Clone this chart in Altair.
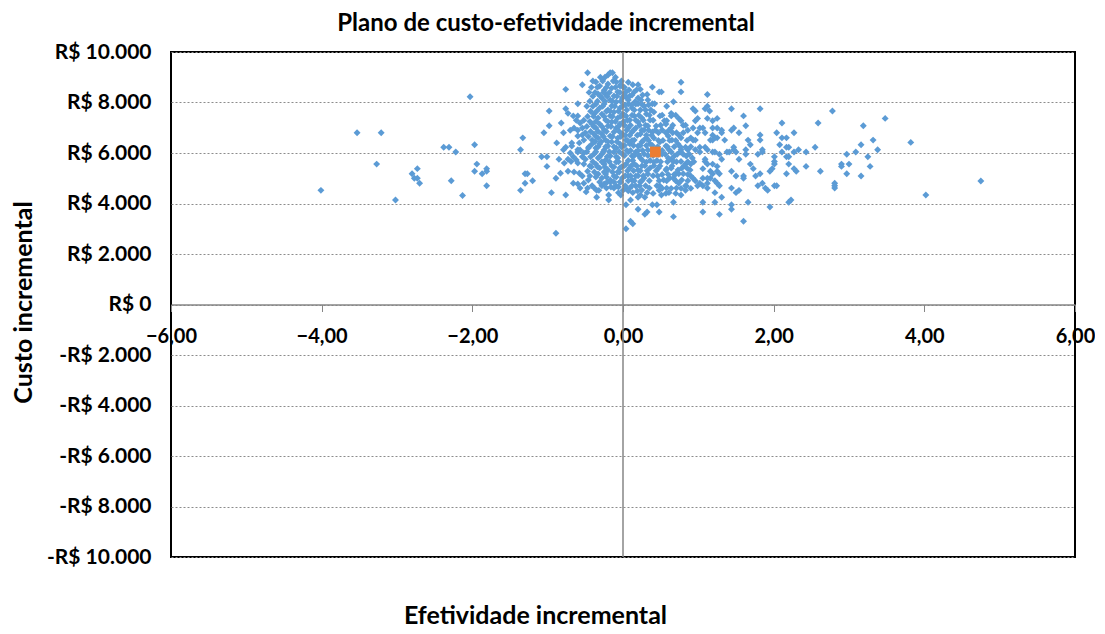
import altair as alt
import pandas as pd

# ---------------- data ----------------
x_ticks = [-6, -4, -2, 0, 2, 4, 6]
y_ticks = [-10000, -8000, -6000, -4000, -2000, 0, 2000, 4000, 6000, 8000, 10000]

# outlying points on the left
left_pts = [
    (-4.01, 4520), (-3.53, 6800), (-3.21, 6800), (-3.27, 5560), (-3.02, 4140),
    (-2.80, 5180), (-2.73, 5380), (-2.77, 5000), (-2.73, 5000), (-2.70, 4800),
    (-2.38, 6230), (-2.31, 6230), (-2.22, 6040), (-2.03, 8230), (-2.28, 4900),
    (-2.13, 4320), (-1.97, 6330), (-1.94, 5560), (-1.97, 5280), (-1.87, 5180),
    (-1.81, 5380), (-1.81, 5280), (-1.81, 4700), (-1.33, 6600), (-1.36, 6130),
    (-1.30, 5180), (-1.27, 5180), (-1.20, 4900), (-1.30, 4800), (-1.36, 4520),
    (-1.05, 6800), (-0.98, 7660), (-0.98, 7080), (-1.08, 5850), (-1.01, 5850),
    (-1.01, 5470),
]

# points around the central cloud (edges)
mid_pts = [
    (-0.47, 9180), (-0.17, 9180), (-0.20, 9090), (-0.14, 9180), (-0.54, 8700),
    (-0.76, 8520), (-0.60, 7950), (-0.76, 7750), (-0.73, 7570), (-0.66, 7470),
    (-0.60, 7470), (-0.82, 7190), (-0.57, 7190), (-0.54, 6990), (-0.50, 6800),
    (-0.54, 6710), (-0.79, 6800), (-0.41, 6510), (-0.76, 6230), (-0.79, 6130),
    (-0.60, 6130), (-0.60, 6040), (-0.85, 5750), (-0.73, 5750), (-0.69, 5660),
    (-0.66, 5850), (-0.54, 5850), (-0.50, 5750), (-0.73, 5280), (-0.47, 5280),
    (-0.44, 5090), (-0.89, 5000), (-0.57, 4610), (-0.47, 4610), (-0.41, 4700),
    (-0.38, 4610), (-0.35, 4520), (-0.76, 4340), (-0.95, 4430), (-0.35, 4250),
    (-0.19, 4140), (-0.89, 2820), (0.04, 3000), (0.10, 3300), (0.13, 3200),
    (0.29, 3570), (0.32, 3660), (0.20, 3770), (0.48, 3660), (0.67, 3480),
    (0.67, 4050), (0.39, 3950), (0.45, 3950), (0.77, 4340),
    (0.77, 8800), (0.77, 8420), (0.39, 8610), (0.48, 8420), (0.51, 8420),
    (0.32, 8320), (0.20, 8700), (0.13, 8700), (0.07, 8800), (0.23, 8520),
    (0.00, 8610), (-0.03, 8700), (0.04, 8230), (0.67, 8030), (0.58, 7850),
    (0.39, 7950), (0.42, 7950), (0.16, 8030), (0.20, 7950), (0.93, 7750),
    (0.96, 7660), (0.64, 7570), (0.64, 7470), (0.74, 7370), (0.77, 7280),
    (0.96, 7280), (0.99, 7370), (0.58, 7280), (0.55, 7280), (0.61, 6900),
    (0.64, 6990), (0.83, 7100), (0.86, 6900), (0.71, 6800), (0.74, 6710),
    (0.77, 6600), (0.93, 6990), (0.99, 6800), (0.90, 6600), (0.93, 6510),
    (0.96, 6510), (0.83, 6230), (0.86, 6130), (0.77, 6130), (0.64, 6040),
    (0.61, 6130), (0.96, 6130), (0.64, 5750), (0.67, 5660), (0.77, 5660),
    (0.83, 5560), (0.90, 5560), (0.58, 5380), (0.74, 5180), (0.80, 5180),
    (0.90, 5090), (0.93, 5000), (0.67, 5000), (0.74, 4800), (0.71, 4610),
    (0.83, 4700), (0.83, 4520), (0.96, 4900), (0.99, 4700), (0.58, 4610),
    (0.61, 4430), (0.51, 4340), (0.45, 4700), (0.48, 4520), (0.32, 4430),
    (0.29, 4250), (0.35, 4610), (0.23, 4340), (0.20, 4250), (0.13, 4430),
    (0.04, 3950), (0.10, 4140), (0.00, 4520), (0.04, 4610), (-0.06, 4430),
    (-0.03, 4340), (-0.12, 4610), (-0.22, 4610), (-0.28, 4700), (-0.32, 4520),
    (-0.19, 4340),
]

# dense core of the cloud
core_pts = [
    (-0.36, 8810), (-0.31, 8650), (-0.25, 8490), (-0.20, 8730), (-0.15, 8570),
    (-0.09, 8810), (-0.04, 8650), (-0.33, 8340), (-0.28, 8180), (-0.23, 8340),
    (-0.17, 8100), (-0.12, 8260), (-0.07, 8420), (-0.01, 8180), (-0.36, 7940),
    (-0.31, 7780), (-0.25, 7940), (-0.20, 7700), (-0.15, 7860), (-0.09, 8020),
    (-0.04, 7780), (-0.385, 7540), (-0.33, 7390), (-0.28, 7540), (-0.23, 7310),
    (-0.17, 7470), (-0.12, 7620), (-0.07, 7390), (-0.01, 7540), (-0.41, 7150),
    (-0.36, 6990), (-0.31, 7150), (-0.25, 6910), (-0.20, 7070), (-0.15, 7230),
    (-0.09, 6990), (-0.04, 7150), (-0.385, 6750), (-0.33, 6590), (-0.28, 6750),
    (-0.23, 6510), (-0.17, 6670), (-0.12, 6830), (-0.07, 6590), (-0.01, 6750),
    (-0.41, 6360), (-0.36, 6200), (-0.31, 6360), (-0.25, 6120), (-0.20, 6280),
    (-0.15, 6440), (-0.09, 6200), (-0.04, 6360), (-0.385, 5960), (-0.33, 5800),
    (-0.28, 5960), (-0.23, 5720), (-0.17, 5880), (-0.12, 6040), (-0.07, 5800),
    (-0.01, 5960), (-0.36, 5560), (-0.31, 5410), (-0.25, 5560), (-0.20, 5330),
    (-0.15, 5490), (-0.09, 5640), (-0.04, 5410), (-0.33, 5170), (-0.28, 5010),
    (-0.23, 5170), (-0.17, 4930), (-0.12, 5090), (-0.07, 5250), (-0.01, 5010),
    (-0.25, 4770), (-0.17, 4850), (-0.09, 4690), (-0.04, 4850),
    (0.04, 8420), (0.09, 8260), (0.15, 8420), (0.20, 8180), (0.07, 7940),
    (0.12, 7780), (0.17, 7940), (0.23, 7700), (0.28, 7860), (0.33, 8100),
    (0.04, 7470), (0.09, 7310), (0.15, 7470), (0.20, 7230), (0.25, 7390),
    (0.31, 7540), (0.36, 7310), (0.07, 6990), (0.12, 6830), (0.17, 6990),
    (0.23, 6750), (0.28, 6910), (0.33, 7070), (0.39, 6830), (0.04, 6510),
    (0.09, 6360), (0.15, 6510), (0.20, 6280), (0.25, 6440), (0.31, 6590),
    (0.36, 6360), (0.07, 6040), (0.12, 5880), (0.17, 6040), (0.23, 5800),
    (0.28, 5960), (0.33, 6120), (0.04, 5560), (0.09, 5410), (0.15, 5560),
    (0.20, 5330), (0.25, 5490), (0.31, 5640), (0.36, 5410), (0.07, 5090),
    (0.12, 4930), (0.17, 5090), (0.23, 4850), (0.28, 5010), (0.33, 5170),
    (0.09, 4610), (0.17, 4690), (0.25, 4530),
    (0.41, 7620), (0.49, 7470), (0.57, 7150), (0.44, 7070), (0.52, 6910),
    (0.60, 6670), (0.41, 6590), (0.49, 6440), (0.57, 6280), (0.65, 6510),
    (0.73, 6360), (0.44, 6120), (0.52, 5960), (0.60, 5800), (0.68, 5880),
    (0.76, 6040), (0.84, 5880), (0.92, 5800), (0.41, 5640), (0.49, 5490),
    (0.57, 5330), (0.65, 5490), (0.73, 5330), (0.81, 5490), (0.89, 5330),
    (0.46, 5090), (0.54, 4930), (0.62, 5010), (0.70, 5170), (0.78, 4930),
    (0.49, 4690), (0.84, 4690),
    (-0.65, 6990), (-0.60, 6670), (-0.52, 6510), (-0.68, 6280), (-0.57, 6120),
    (-0.46, 6200), (-0.62, 5720), (-0.52, 5560), (-0.44, 5490), (-0.65, 5250),
    (-0.54, 5090), (-0.46, 4930), (-0.60, 4770), (-0.49, 4460),
]

# further points filling the dense cloud, row by row (cost -> effects)
core_rows = {
    9000: [-0.30, -0.24, -0.10],
    8850: [-0.40, -0.27, -0.13, -0.02],
    8600: [-0.42, -0.34, -0.22, -0.10, 0.02],
    8500: [0.08, 0.18],
    8400: [-0.45, -0.37, -0.26, -0.18, -0.04],
    8300: [0.02, 0.12, 0.26],
    8250: [-0.40, -0.30, -0.21, -0.08, 0.01],
    8100: [0.07, 0.24],
    8050: [-0.44, -0.34, -0.24, -0.14, -0.03],
    7900: [0.03, 0.11, 0.26, 0.34],
    7850: [-0.48, -0.40, -0.27, -0.11, -0.01],
    7700: [0.05, 0.15, 0.30, 0.37],
    7650: [-0.43, -0.35, -0.22, -0.17, -0.06],
    7500: [0.02, 0.12, 0.21, 0.35, 0.52, 0.70],
    7450: [-0.47, -0.39, -0.25, -0.14, -0.03],
    7300: [0.06, 0.17, 0.27, 0.40, -0.52, -0.62],
    7250: [-0.44, -0.36, -0.20, -0.10, 0.01],
    7100: [0.02, 0.10, 0.22, 0.30, 0.50, 0.66, 0.80],
    7050: [-0.48, -0.39, -0.28, -0.16, -0.06],
    6900: [0.05, 0.14, 0.25, 0.34, 0.43, -0.60, -0.70],
    6850: [-0.43, -0.33, -0.22, -0.05],
    6800: [0.47, 0.57, 0.66, 0.80],
    6700: [0.03, 0.09, 0.19, 0.31, 0.38],
    6650: [-0.46, -0.36, -0.26, -0.14, -0.03],
    6500: [0.06, 0.12, 0.27, 0.34, 0.47, 0.53, 0.62, 0.70, 0.85],
    6450: [-0.37, -0.29, -0.20, -0.08],
    6400: [-0.58, -0.68, -0.88],
    6300: [0.02, 0.14, 0.23, 0.31, 0.39],
    6250: [-0.45, -0.33, -0.23, -0.12, -0.02, 0.46, 0.59, 0.68, 0.76, 0.90],
    6100: [0.05, 0.10, 0.20, 0.26, 0.38, 0.52],
    6050: [-0.48, -0.36, -0.26, -0.18, -0.05],
    6000: [-0.70, -0.52],
    5950: [0.47, 0.56, 0.72, 0.80, 0.88],
    5900: [0.02, 0.15, 0.21, 0.33, 0.40],
    5850: [-0.43, -0.31, -0.21, -0.09],
    5700: [0.07, 0.13, 0.26, 0.36, 0.45],
    5650: [-0.40, -0.28, -0.18, -0.06, 0.50, 0.59, 0.71, 0.86, 0.94],
    5600: [-0.60, -0.78],
    5500: [0.02, 0.11, 0.18, 0.29, 0.41],
    5450: [-0.42, -0.34, -0.24, -0.12, -0.02],
    5400: [0.47, 0.64, 0.78, 0.85],
    5300: [0.06, 0.14, 0.23, 0.32, 0.44],
    5250: [-0.38, -0.25, -0.14, -0.05],
    5200: [-0.58, -0.83],
    5150: [0.52, 0.60, 0.68, 0.86],
    5100: [0.03, 0.10, 0.20, 0.27, 0.40],
    5050: [-0.36, -0.22, -0.09],
    4900: [0.07, 0.15, 0.25, 0.35, 0.48, 0.58, 0.70, 0.86],
    4850: [-0.31, -0.21, -0.12, -0.03],
    4800: [-0.66, -0.52],
    4700: [0.03, 0.12, 0.22, 0.30],
    4650: [-0.16, -0.06],
    4600: [0.52, 0.64, 0.77, 0.90],
    4500: [0.07, 0.19],
    4400: [0.40, 0.57, 0.70],
}

# points on the right
right_pts = [
    (1.12, 8320), (1.44, 7750), (1.60, 7470), (1.82, 7750), (1.63, 7080),
    (1.54, 6800), (1.44, 6900), (1.47, 6990), (1.31, 6900), (1.31, 6800),
    (1.35, 6510), (1.66, 6510), (1.69, 6330), (1.82, 6710), (1.82, 6510),
    (2.11, 7190), (2.04, 6800), (2.11, 6600), (2.17, 6600), (2.27, 6800),
    (2.59, 7190), (2.78, 7660), (3.19, 7080), (3.48, 7370), (3.82, 6420),
    (4.02, 4340), (4.75, 4890), (3.32, 6510), (3.38, 6130), (3.16, 6330),
    (3.09, 6040), (3.25, 5850), (3.28, 5470), (3.16, 5090), (2.97, 5950),
    (3.00, 5560), (2.90, 5560), (2.90, 5470), (2.97, 5180), (2.81, 4800),
    (2.81, 4700), (2.81, 4610), (2.62, 5280), (2.55, 6230), (2.43, 6040),
    (2.43, 5470), (2.33, 6130), (2.27, 6040), (2.17, 6230), (2.20, 6230),
    (2.11, 6040), (2.17, 5850), (2.20, 5850), (2.20, 5560), (2.17, 5180),
    (2.27, 5380), (2.30, 5280), (2.01, 5850), (2.01, 5660), (2.01, 5560),
    (1.95, 5280), (1.98, 5380), (2.08, 6330), (1.85, 6130), (1.85, 6040),
    (1.79, 5950), (1.69, 5560), (1.73, 5380), (1.82, 5180), (1.76, 5090),
    (1.79, 4700), (1.85, 4800), (1.89, 4610), (1.92, 4520), (2.01, 4700),
    (2.04, 4700), (1.95, 3860), (2.20, 4050), (2.23, 4140), (1.66, 4050),
    (1.60, 3300), (1.60, 5090), (1.60, 5000), (1.50, 5090), (1.44, 5280),
    (1.44, 4610), (1.50, 4430), (1.54, 4520), (1.44, 3950), (1.44, 3770),
    (1.28, 3570), (1.31, 4250), (1.22, 4050), (1.06, 4050), (1.06, 3660),
    (1.22, 4430), (1.54, 5750), (1.50, 6040), (1.47, 6230), (1.47, 6130),
    (1.41, 6040), (1.38, 6040), (1.63, 6130), (1.63, 5950), (1.31, 5750),
    (1.28, 5950), (1.25, 7370), (1.19, 7280), (1.15, 7660), (1.12, 7370),
    (1.09, 7750), (1.12, 7850), (1.19, 6990), (1.25, 6990), (1.19, 6700),
    (1.22, 6600), (1.25, 6600), (1.16, 6510), (1.19, 6510), (1.09, 6800),
    (1.02, 6990), (1.06, 6990), (1.09, 6230), (1.12, 6130), (1.19, 6040),
    (1.22, 6040), (1.02, 6230), (1.02, 6040), (1.09, 5750), (1.09, 5660),
    (1.12, 5560), (1.19, 5560), (1.25, 5470), (1.25, 5280), (1.28, 5180),
    (1.16, 5280), (1.19, 5180), (1.16, 5000), (1.12, 5000), (1.12, 4800),
    (1.12, 4610), (1.06, 5380), (1.06, 5000), (1.02, 4800), (1.06, 4700),
    (1.22, 4900), (1.25, 4800), (1.28, 4700),
]

mean_eff = [0.43]
mean_cost = [6040]

# ---------------- chart ----------------
row_pts = [(e, c) for c, effs in core_rows.items() for e in effs]
all_pts = left_pts + mid_pts + core_pts + row_pts + right_pts
df = pd.DataFrame(all_pts, columns=["eff", "cost"])
mean_df = pd.DataFrame({"eff": mean_eff, "cost": mean_cost})
zero_df = pd.DataFrame({"eff": [0]})

FONT = "Lato"
W, H = 904, 505

xscale = alt.Scale(domain=[-6, 6], nice=False, zero=False)
yscale = alt.Scale(domain=[-10000, 10000], nice=False, zero=False)

xaxis = alt.Axis(
    values=x_ticks, offset=-H / 2, orient="bottom",
    labelExpr="replace(format(datum.value, '.2f'), '.', ',')",
    domainColor="#868686", domainWidth=1.5,
    tickColor="#868686", tickSize=7, tickWidth=1,
    labelFont=FONT, labelFontSize=20, labelFontWeight="bold", labelColor="black",
    labelPadding=15, labelFlush=False, labelOverlap=False, grid=False,
    title="Efetividade incremental", titleFont=FONT, titleFontSize=25,
    titleFontWeight="bold", titleColor="black",
    titleX=364, titleY=311, titleAlign="center", titleBaseline="middle",
)
yaxis = alt.Axis(
    values=y_ticks, orient="left",
    labelExpr="datum.value == 0 ? 'R$ 0' : (datum.value < 0 ? '-' : '') + 'R$ ' + replace(format(abs(datum.value), ','), ',', '.')",
    domain=False, ticks=False,
    labelFont=FONT, labelFontSize=21, labelFontWeight="bold", labelColor="black",
    labelPadding=20, labelOverlap=False, labelFlush=False,
    grid=True, gridDash=[2, 2], gridColor="#8c8c8c", gridWidth=1,
    title="Custo incremental", titleFont=FONT, titleFontSize=25,
    titleFontWeight="bold", titleColor="black",
    titleX=-148, titleY=250, titleAngle=270, titleAlign="center", titleBaseline="middle",
)

pts = alt.Chart(df).mark_point(
    shape="diamond", filled=True, size=48, color="#5B9BD5", opacity=1
).encode(
    x=alt.X("eff:Q", scale=xscale, axis=xaxis),
    y=alt.Y("cost:Q", scale=yscale, axis=yaxis),
)

zero_rule = alt.Chart(zero_df).mark_rule(color="#868686", strokeWidth=1.5).encode(
    x=alt.X("eff:Q", scale=xscale, axis=xaxis),
)

mean_pt = alt.Chart(mean_df).mark_point(
    shape="square", filled=True, size=115, color="#ED7D31", opacity=1
).encode(
    x=alt.X("eff:Q", scale=xscale, axis=xaxis),
    y=alt.Y("cost:Q", scale=yscale, axis=yaxis),
)

chart = alt.layer(pts, zero_rule, mean_pt).properties(
    width=W, height=H,
    background="white",
    title=alt.TitleParams(
        "Plano de custo-efetividade incremental", font=FONT, fontSize=24,
        fontWeight="bold", color="black", anchor="middle", frame="group",
        dx=-77, offset=5,
    ),
    padding={"left": 163, "top": 44, "right": 20, "bottom": 76},
    autosize=alt.AutoSizeParams(type="none"),
).configure_view(
    stroke="black", strokeWidth=2
)

chart.save("out.html", embed_options={"renderer": "svg", "actions": False})
